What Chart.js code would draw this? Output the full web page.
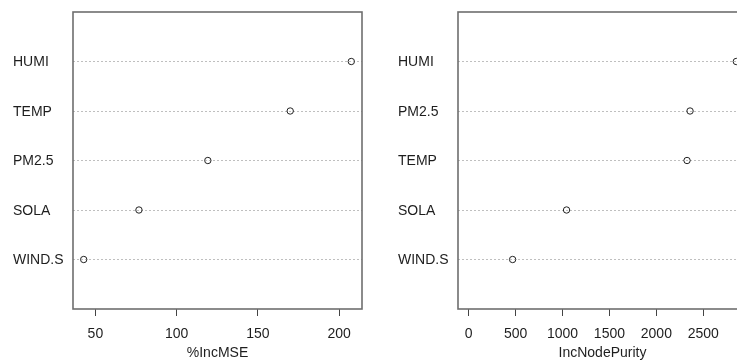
<!DOCTYPE html>
<html>
<head>
<meta charset="utf-8">
<script src="https://cdn.jsdelivr.net/npm/chart.js@4/dist/chart.umd.min.js"></script>
<style>
  html, body { margin: 0; padding: 0; background: #fff; width: 737px; height: 363px; overflow: hidden; }
  .panel { position: absolute; top: 0; width: 370px; height: 363px; }
  #p1 { left: 0; }
  #p2 { left: 385px; }
</style>
</head>
<body>
<div class="panel" id="p1"><canvas id="c1"></canvas></div>
<div class="panel" id="p2"><canvas id="c2"></canvas></div>
<script>
// ---- data ----
const mseVariables = ["WIND.S", "SOLA", "PM2.5", "TEMP", "HUMI"];      // bottom -> top
const mseValues    = [42.8, 76.8, 119.2, 169.9, 207.5];
const mseTicks     = [50, 100, 150, 200];
const mseTitle     = "%IncMSE";

const purityVariables = ["WIND.S", "SOLA", "TEMP", "PM2.5", "HUMI"];  // bottom -> top
const purityValues    = [468, 1043, 2327, 2359, 2852];
const purityTicks     = [0, 500, 1000, 1500, 2000, 2500];
const purityTitle     = "IncNodePurity";

const FONT = "'Liberation Sans', Arial, sans-serif";

const boxPlugin = {
  id: 'box',
  afterDraw(chart) {
    const {ctx, chartArea: a} = chart;
    ctx.save();
    ctx.strokeStyle = '#6e6e6e';
    ctx.lineWidth = 1.6;
    ctx.strokeRect(a.left, a.top, a.right - a.left, a.bottom - a.top);
    ctx.restore();
  }
};

function makePanel(id, vars, vals, ticks, title, xmin, xmax) {
  const points = vals.map((v, i) => ({x: v, y: i + 1}));
  return new Chart(document.getElementById(id), {
    type: 'scatter',
    data: {
      datasets: [{
        data: points,
        pointStyle: 'circle',
        pointRadius: 3.2,
        pointBorderWidth: 1,
        borderColor: '#222',
        backgroundColor: 'rgba(255,255,255,0)',
        clip: false
      }]
    },
    options: {
      responsive: false,
      animation: false,
      devicePixelRatio: 1,
      layout: { padding: { left: 13, right: 8, top: 12, bottom: 0 } },
      plugins: { legend: { display: false }, tooltip: { enabled: false } },
      scales: {
        x: {
          type: 'linear',
          min: xmin, max: xmax,
          afterBuildTicks: s => { s.ticks = ticks.map(v => ({value: v})); },
          afterFit: s => { s.height = 54; },
          grid: { drawOnChartArea: false, drawTicks: true, tickLength: 7, color: '#444', lineWidth: 1 },
          border: { display: false },
          ticks: { color: '#1e1e1e', font: { family: FONT, size: 14 }, padding: 10, maxRotation: 0, autoSkip: false,
                   callback: v => String(v) },
          title: { display: true, text: title, color: '#1e1e1e', font: { family: FONT, size: 14 }, padding: { top: 0, bottom: 1 } }
        },
        y: {
          type: 'linear',
          min: 0, max: 6,
          afterBuildTicks: s => { s.ticks = vars.map((v, i) => ({value: i + 1})); },
          afterFit: s => { s.width = 60; },
          grid: { drawOnChartArea: true, drawTicks: false, color: '#bfbfbf', lineWidth: 1 },
          border: { display: false, dash: [2, 2] },
          ticks: {
            crossAlign: 'far',
            padding: 0,
            labelOffset: 1,
            color: '#1e1e1e',
            font: { family: FONT, size: 14 },
            autoSkip: false,
            callback: (value) => vars[value - 1] || ''
          }
        }
      }
    },
    plugins: [boxPlugin]
  });
}

function limits(vals, fromZero) {
  const lo = fromZero ? 0 : Math.min(...vals);
  const hi = Math.max(...vals);
  const pad = (hi - lo) * 0.04;
  return [lo - pad, hi + pad];
}

const [m0, m1] = limits(mseValues, false);
const [p0, p1] = limits(purityValues, true);

document.getElementById('c1').width = 370; document.getElementById('c1').height = 363;
document.getElementById('c2').width = 370; document.getElementById('c2').height = 363;

makePanel('c1', mseVariables, mseValues, mseTicks, mseTitle, m0, m1);
makePanel('c2', purityVariables, purityValues, purityTicks, purityTitle, p0, p1);
</script>
</body>
</html>
